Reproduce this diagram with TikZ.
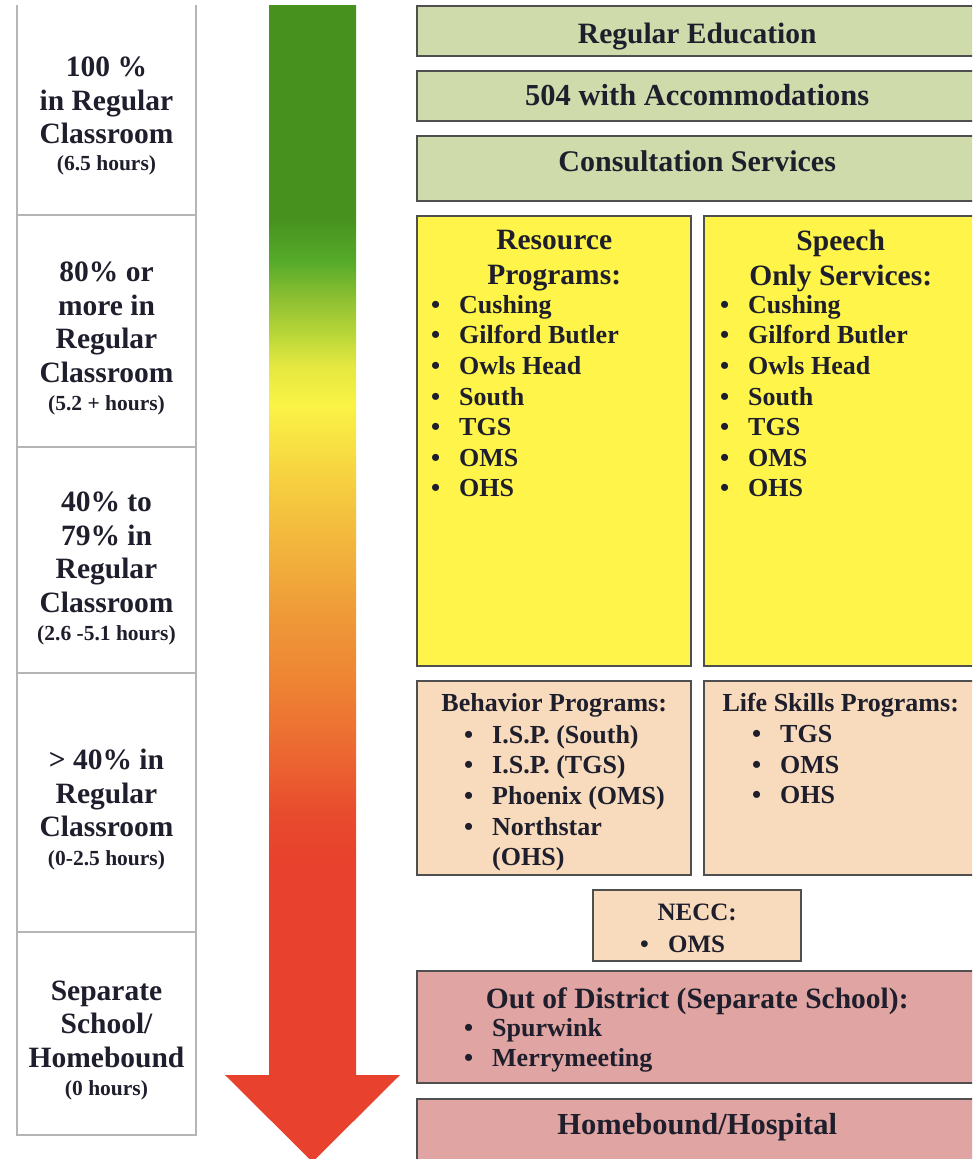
\documentclass[tikz,border=0pt]{standalone}
\usepackage{fontspec}
\setmainfont{Liberation Serif}
\usetikzlibrary{positioning}

\definecolor{sage}{HTML}{CFDBAB}
\definecolor{lemon}{HTML}{FFF54A}
\definecolor{peach}{HTML}{F8DBBD}
\definecolor{rose}{HTML}{E0A5A3}
\definecolor{boxedge}{HTML}{4F4F4F}
\definecolor{rulegray}{HTML}{B5B5B5}
\definecolor{ink}{HTML}{1E1E2C}

% colours of the arrow, bottom to top
\definecolor{fadeR}{HTML}{E8412D}
\definecolor{fadeA}{HTML}{E84C2E}
\definecolor{fadeB}{HTML}{EC6A32}
\definecolor{fadeC}{HTML}{EE8434}
\definecolor{fadeD}{HTML}{EE9A38}
\definecolor{fadeE}{HTML}{F2B43C}
\definecolor{fadeF}{HTML}{F6D040}
\definecolor{fadeG}{HTML}{FAF346}
\definecolor{fadeH}{HTML}{E4E840}
\definecolor{fadeI}{HTML}{B8D638}
\definecolor{fadeJ}{HTML}{8EC032}
\definecolor{fadeK}{HTML}{56AB2A}
\definecolor{fadeL}{HTML}{47911F}

\pgfdeclareverticalshading{arrowfade}{100bp}{color(0bp)=(fadeR); color(37.9bp)=(fadeR);
  color(40.1bp)=(fadeA); color(42.9bp)=(fadeB); color(45.8bp)=(fadeC); color(48.7bp)=(fadeD);
  color(51.6bp)=(fadeE); color(54.5bp)=(fadeF); color(57.7bp)=(fadeG); color(59.4bp)=(fadeH);
  color(60.8bp)=(fadeI); color(62.3bp)=(fadeJ); color(63.9bp)=(fadeK); color(65.8bp)=(fadeL);
  color(100bp)=(fadeL)}

\newcommand\itm[1]{\makebox[28pt][l]{\textbullet}#1}
\newcommand\hrs[1]{{\fontsize{21.5}{26}\selectfont #1}}

\tikzset{
  lvl/.style={align=center, text=ink, inner sep=0pt, font=\bfseries\fontsize{29.5}{33.5}\selectfont},
  tier/.style={draw=boxedge, line width=2.4pt, anchor=north west, inner sep=0pt},
  headtxt/.style={align=center, text=ink, inner sep=0pt, font=\bfseries\fontsize{29.5}{35}\selectfont},
  listtxt/.style={align=left, text=ink, inner sep=0pt, font=\bfseries\fontsize{26}{30.6}\selectfont},
  rule/.style={draw=rulegray, line width=2pt}
}

\begin{document}
\begin{tikzpicture}[x=1pt,y=-1pt]
\useasboundingbox (0,0) rectangle (972,1159);
\clip (0,0) rectangle (972,1159);

% time in the regular classroom
\draw[rule] (17,5) -- (17,1135) -- (196,1135) -- (196,5);
\foreach \y in {215,447,673,932}
  \draw[rule] (17,\y) -- (196,\y);

\node[lvl] (full) at (106.5,116) {100 \%\\in Regular\\Classroom\\[-7pt]\hrs{(6.5 hours)}};
\node[lvl] (mostly) at (106.5,338.5) {80\% or\\more in\\Regular\\Classroom\\[-5pt]\hrs{(5.2 + hours)}};
\node[lvl] (partly) at (106.5,568.5) {40\% to\\79\% in\\Regular\\Classroom\\[-5pt]\hrs{(2.6 -5.1 hours)}};
\node[lvl] (minimal) at (106.5,809.5) {> 40\% in\\Regular\\Classroom\\[-5pt]\hrs{(0-2.5 hours)}};
\node[lvl] (separate) at (106.5,1040.5) {Separate\\School/\\Homebound\\[-5pt]\hrs{(0 hours)}};

% the arrow
\path[shading=arrowfade] (269,5) -- (356,5) -- (356,1075) -- (400,1075)
  -- (312.5,1162) -- (225,1075) -- (269,1075) -- cycle;

% placements
\node[tier, fill=sage, minimum width=560pt, minimum height=50pt] (regedu) at (416,5) {};
\node[tier, fill=sage, minimum width=560pt, minimum height=50pt] (acc504) at (416,70) {};
\node[tier, fill=sage, minimum width=560pt, minimum height=65pt] (consult) at (416,135) {};
\node[tier, fill=lemon, minimum width=274pt, minimum height=450pt] (resource) at (416,215) {};
\node[tier, fill=lemon, minimum width=273pt, minimum height=450pt] (speech) at (703,215) {};
\node[tier, fill=peach, minimum width=274pt, minimum height=194pt] (behavior) at (416,680) {};
\node[tier, fill=peach, minimum width=273pt, minimum height=194pt] (lifeskills) at (703,680) {};
\node[tier, fill=peach, minimum width=208pt, minimum height=71pt] (necc) at (592,889) {};
\node[tier, fill=rose, minimum width=560pt, minimum height=112pt] (outdist) at (416,970) {};
\node[tier, fill=rose, minimum width=560pt, minimum height=80pt] (homebound) at (416,1098) {};

\node[headtxt, below=18pt of regedu.north] (regedulbl) {Regular Education};
\node[headtxt, below=14pt of acc504.north, font=\bfseries\fontsize{30.5}{35}\selectfont] (acc504lbl) {504 with Accommodations};
\node[headtxt, below=15pt of consult.north, font=\bfseries\fontsize{30}{35}\selectfont] (consultlbl) {Consultation Services};

\node[headtxt, below=15pt of resource.north] (resourcelbl) {Resource\\Programs:};
\node[listtxt, below right=80pt and 15pt of resource.north west] (resourcelist)
  {\itm{Cushing}\\\itm{Gilford Butler}\\\itm{Owls Head}\\\itm{South}\\\itm{TGS}\\\itm{OMS}\\\itm{OHS}};
\node[headtxt, below=15pt of speech.north] (speechlbl) {Speech\\Only Services:};
\node[listtxt, below right=80pt and 17pt of speech.north west] (speechlist)
  {\itm{Cushing}\\\itm{Gilford Butler}\\\itm{Owls Head}\\\itm{South}\\\itm{TGS}\\\itm{OMS}\\\itm{OHS}};

\node[headtxt, below=13pt of behavior.north, font=\bfseries\fontsize{26}{30}\selectfont] (behaviorlbl) {Behavior Programs:};
\node[listtxt, below right=45pt and 48pt of behavior.north west] (behaviorlist)
  {\itm{I.S.P. (South)}\\\itm{I.S.P. (TGS)}\\\itm{Phoenix (OMS)}\\\itm{Northstar}\\\hspace*{28pt}(OHS)};
\node[headtxt, below=13pt of lifeskills.north, font=\bfseries\fontsize{26}{30}\selectfont] (lifeskillslbl) {Life Skills Programs:};
\node[listtxt, below right=45pt and 49pt of lifeskills.north west] (lifeskillslist)
  {\itm{TGS}\\\itm{OMS}\\\itm{OHS}};

\node[headtxt, below=15pt of necc.north, font=\bfseries\fontsize{25}{30}\selectfont] (necclbl) {NECC:};
\node[listtxt, below right=47pt and 48pt of necc.north west, font=\bfseries\fontsize{25}{30}\selectfont] (necclist) {\itm{OMS}};

\node[headtxt, below=18pt of outdist.north] (outdistlbl) {Out of District (Separate School):};
\node[listtxt, below right=48pt and 48pt of outdist.north west] (outdistlist)
  {\itm{Spurwink}\\\itm{Merrymeeting}};
\node[headtxt, below=15pt of homebound.north, font=\bfseries\fontsize{30.5}{35}\selectfont] (homeboundlbl) {Homebound/Hospital};
\end{tikzpicture}
\end{document}
